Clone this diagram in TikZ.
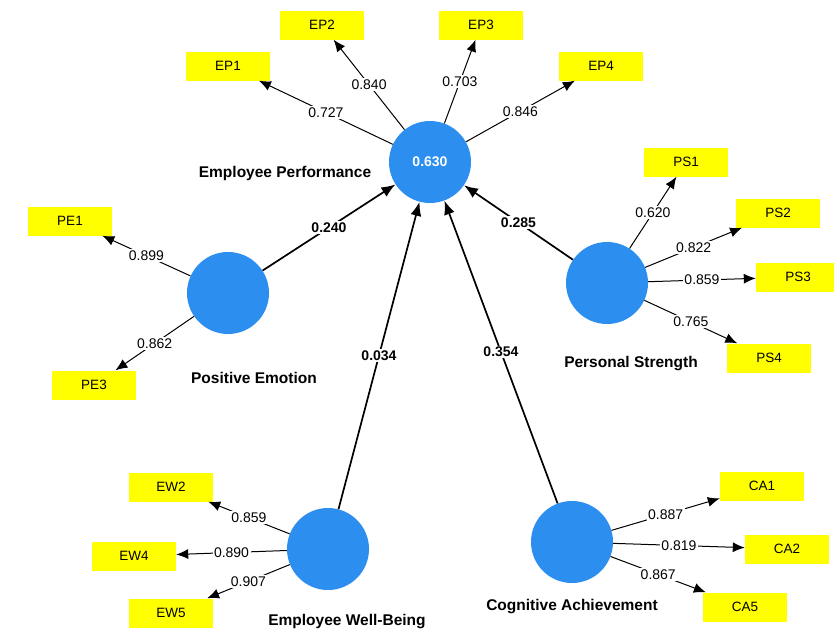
\documentclass[tikz,border=0pt]{standalone}
\usepackage{fontspec}
\setmainfont{Liberation Sans}
\usetikzlibrary{arrows.meta}
\definecolor{lvblue}{HTML}{2C8EEF}
\definecolor{mvyellow}{HTML}{FFFF00}

\begin{document}
\begin{tikzpicture}[x=1pt,y=-1pt,
    latent/.style={circle,fill=lvblue,minimum size=82pt,inner sep=0pt},
    item/.style={fill=mvyellow,minimum width=84pt,minimum height=29pt,inner sep=0pt,font=\fontsize{13.5}{16}\selectfont},
    load/.style={-{Latex[length=12pt,width=10pt]},line width=1pt},
    pathcoef/.style={-{Latex[length=14pt,width=11pt]},line width=1.7pt},
    lname/.style={font=\bfseries\fontsize{15.5}{18}\selectfont},
    wlabel/.style={fill=white,inner sep=1.5pt,font=\fontsize{14}{16}\selectfont},
    blabel/.style={fill=white,inner sep=1.5pt,font=\bfseries\fontsize{14}{16}\selectfont}]
			\useasboundingbox (0,0) rectangle (834,637);
			% latent variables
			\node[latent] (ep) at (430,162) {\color{white}\bfseries\fontsize{14}{16}\selectfont 0.630};
			\node[latent] (pe) at (228,293) {};
			\node[latent] (ps) at (607,283) {};
			\node[latent] (ew) at (328,549) {};
			\node[latent] (ca) at (572,542) {};
			\node[lname] (epname) at (285,173) {Employee Performance};
			\node[lname] (pename) at (254,378) {Positive Emotion};
			\node[lname] (psname) at (631,364) {Personal Strength};
			\node[lname] (ewname) at (347,622) {Employee Well-Being};
			\node[lname] (caname) at (572,607) {Cognitive Achievement};
			% indicators
			\foreach \n/\x/\y in {EP1/228/66, EP2/322/25, EP3/481/25, EP4/601/66,
				PE1/70/221, PE3/94/385,
				PS1/686/162, PS2/778/213, PS3/798/277, PS4/769/358,
				EW2/171/487, EW4/134/556, EW5/171/613,
				CA1/762/486, CA2/787/549, CA5/745/607}
				\node[item] (\n) at (\x,\y) {\n};
			% outer loadings
			\foreach \a/\b/\v in {ep/EP1/0.727, ep/EP2/0.840, ep/EP3/0.703, ep/EP4/0.846,
				pe/PE1/0.899, pe/PE3/0.862,
				ps/PS1/0.620, ps/PS2/0.822, ps/PS3/0.859, ps/PS4/0.765,
				ew/EW2/0.859, ew/EW4/0.890, ew/EW5/0.907,
				ca/CA1/0.887, ca/CA2/0.819, ca/CA5/0.867}
				\draw[load] (\a) -- node[wlabel] {\v} (\b);
			% path coefficients
			\draw[pathcoef] (pe) -- node[blabel] {0.240} (ep);
			\draw[pathcoef] (ps) -- node[blabel] {0.285} (ep);
			\draw[pathcoef] (ew) -- node[blabel] {0.034} (ep);
			\draw[pathcoef] (ca) -- node[blabel] {0.354} (ep);
		\end{tikzpicture}
\end{document}
